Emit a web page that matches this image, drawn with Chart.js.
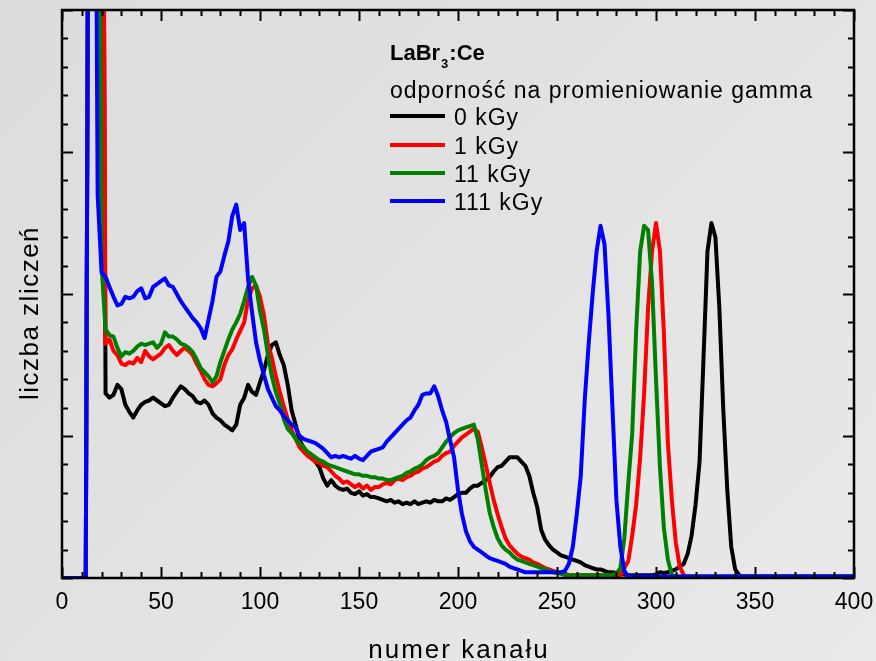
<!DOCTYPE html>
<html>
<head>
<meta charset="utf-8">
<title>LaBr3:Ce</title>
<script src="https://cdn.jsdelivr.net/npm/chart.js@4.4.1/dist/chart.umd.min.js"></script>
<style>
    html, body {
        margin: 0;
        padding: 0;
        overflow: hidden;
        background: linear-gradient(135deg, #dcdcdc, #e9e9e9);
    }
    #wrap {
        position: relative;
        width: 876px;
        height: 661px;
    }
</style>
</head>
<body>
<div id="wrap"><canvas id="spectrum" width="876" height="661"></canvas></div>
<script>
// channel numbers (x), every 2nd channel
const channels = [
    0, 2, 4, 6, 8, 10, 12, 14, 16, 18,
    20, 22, 24, 26, 28, 30, 32, 34, 36, 38,
    40, 42, 44, 46, 48, 50, 52, 54, 56, 58,
    60, 62, 64, 66, 68, 70, 72, 74, 76, 78,
    80, 82, 84, 86, 88, 90, 92, 94, 96, 98,
    100, 102, 104, 106, 108, 110, 112, 114, 116, 118,
    120, 122, 124, 126, 128, 130, 132, 134, 136, 138,
    140, 142, 144, 146, 148, 150, 152, 154, 156, 158,
    160, 162, 164, 166, 168, 170, 172, 174, 176, 178,
    180, 182, 184, 186, 188, 190, 192, 194, 196, 198,
    200, 202, 204, 206, 208, 210, 212, 214, 216, 218,
    220, 222, 224, 226, 228, 230, 232, 234, 236, 238,
    240, 242, 244, 246, 248, 250, 252, 254, 256, 258,
    260, 262, 264, 266, 268, 270, 272, 274, 276, 278,
    280, 282, 284, 286, 288, 290, 292, 294, 296, 298,
    300, 302, 304, 306, 308, 310, 312, 314, 316, 318,
    320, 322, 324, 326, 328, 330, 332, 334, 336, 338,
    340, 342, 344, 346, 348, 350, 352, 354, 356, 358,
    360, 362, 364, 366, 368, 370, 372, 374, 376, 378,
    380, 382, 384, 386, 388, 390, 392, 394, 396, 398,
    400
];

// counts (arbitrary units, 1 = one major division)
const dose0 = [
    0, 0, 0, 0, 0, 0, 0, 8, 8, 8,
    8, 1.30, 1.27, 1.29, 1.36, 1.33, 1.22, 1.17, 1.13, 1.18,
    1.22, 1.24, 1.25, 1.27, 1.25, 1.23, 1.21, 1.22, 1.27, 1.31,
    1.35, 1.33, 1.30, 1.28, 1.24, 1.23, 1.25, 1.22, 1.16, 1.13,
    1.11, 1.08, 1.06, 1.04, 1.08, 1.22, 1.27, 1.36, 1.31, 1.29,
    1.38, 1.46, 1.57, 1.64, 1.66, 1.57, 1.50, 1.36, 1.18, 1.08,
    0.97, 0.92, 0.88, 0.85, 0.82, 0.78, 0.70, 0.65, 0.69, 0.65,
    0.63, 0.62, 0.63, 0.60, 0.59, 0.61, 0.58, 0.59, 0.57, 0.57,
    0.56, 0.55, 0.54, 0.55, 0.53, 0.54, 0.52, 0.53, 0.52, 0.54,
    0.52, 0.53, 0.54, 0.53, 0.55, 0.54, 0.54, 0.56, 0.55, 0.57,
    0.59, 0.60, 0.60, 0.63, 0.65, 0.65, 0.67, 0.69, 0.71, 0.75,
    0.78, 0.79, 0.82, 0.85, 0.85, 0.85, 0.82, 0.79, 0.72, 0.60,
    0.50, 0.34, 0.27, 0.23, 0.20, 0.18, 0.16, 0.15, 0.14, 0.13,
    0.12, 0.11, 0.09, 0.08, 0.07, 0.06, 0.06, 0.05, 0.04, 0.04,
    0.035, 0.03, 0.025, 0.02, 0.02, 0.02, 0.02, 0.02, 0.02, 0.02,
    0.025, 0.04, 0.035, 0.04, 0.05, 0.06, 0.08, 0.10, 0.17, 0.30,
    0.52, 0.82, 1.55, 2.30, 2.50, 2.40, 1.90, 1.18, 0.62, 0.22,
    0.06, 0.02, 0.01, 0.01, 0.01, 0.01, 0.01, 0.01, 0.01, 0.01,
    0.01, 0.01, 0.01, 0.01, 0.01, 0.01, 0.01, 0.01, 0.01, 0.01,
    0.01, 0.01, 0.01, 0.01, 0.01, 0.01, 0.01, 0.01, 0.01, 0.01,
    0.01
];
const dose1 = [
    0, 0, 0, 0, 0, 0, 0, 8, 8, 8,
    8, 1.65, 1.68, 1.60, 1.57, 1.51, 1.50, 1.52, 1.51, 1.55,
    1.52, 1.60, 1.56, 1.54, 1.56, 1.58, 1.62, 1.64, 1.60, 1.57,
    1.60, 1.62, 1.60, 1.57, 1.51, 1.46, 1.40, 1.36, 1.35, 1.37,
    1.40, 1.50, 1.57, 1.61, 1.68, 1.74, 1.80, 1.96, 2.04, 2.06,
    1.98, 1.85, 1.65, 1.55, 1.42, 1.31, 1.21, 1.12, 1.04, 0.98,
    0.92, 0.89, 0.86, 0.84, 0.82, 0.81, 0.79, 0.78, 0.75, 0.72,
    0.70, 0.67, 0.68, 0.66, 0.64, 0.66, 0.63, 0.65, 0.62, 0.64,
    0.64, 0.66, 0.67, 0.66, 0.69, 0.70, 0.69, 0.71, 0.72, 0.74,
    0.75, 0.77, 0.78, 0.80, 0.82, 0.83, 0.86, 0.88, 0.89, 0.93,
    0.96, 0.99, 1.01, 1.03, 1.05, 1.03, 0.92, 0.80, 0.67, 0.55,
    0.45, 0.36, 0.28, 0.23, 0.20, 0.17, 0.15, 0.14, 0.13, 0.11,
    0.10, 0.085, 0.07, 0.06, 0.05, 0.04, 0.035, 0.03, 0.02, 0.02,
    0.02, 0.02, 0.02, 0.02, 0.02, 0.02, 0.02, 0.02, 0.02, 0.02,
    0.02, 0.02, 0.07, 0.12, 0.30, 0.52, 0.85, 1.30, 1.90, 2.30,
    2.50, 2.30, 1.72, 0.95, 0.55, 0.25, 0.08, 0.02, 0.01, 0.01,
    0.01, 0.01, 0.01, 0.01, 0.01, 0.01, 0.01, 0.01, 0.01, 0.01,
    0.01, 0.01, 0.01, 0.01, 0.01, 0.01, 0.01, 0.01, 0.01, 0.01,
    0.01, 0.01, 0.01, 0.01, 0.01, 0.01, 0.01, 0.01, 0.01, 0.01,
    0.01, 0.01, 0.01, 0.01, 0.01, 0.01, 0.01, 0.01, 0.01, 0.01,
    0.01
];
const dose11 = [
    0, 0, 0, 0, 0, 0, 0, 8, 8, 8,
    2.20, 1.75, 1.71, 1.70, 1.62, 1.56, 1.59, 1.58, 1.60, 1.63,
    1.65, 1.64, 1.65, 1.66, 1.62, 1.65, 1.73, 1.70, 1.70, 1.68,
    1.65, 1.64, 1.62, 1.59, 1.54, 1.48, 1.45, 1.42, 1.38, 1.42,
    1.52, 1.60, 1.68, 1.75, 1.80, 1.86, 1.95, 2.05, 2.12, 2.06,
    1.88, 1.75, 1.57, 1.42, 1.31, 1.23, 1.12, 1.05, 1.02, 0.98,
    0.95, 0.92, 0.89, 0.87, 0.85, 0.83, 0.82, 0.80, 0.79, 0.78,
    0.77, 0.76, 0.75, 0.74, 0.73, 0.73, 0.72, 0.72, 0.71, 0.71,
    0.70, 0.70, 0.69, 0.69, 0.70, 0.71, 0.72, 0.74, 0.75, 0.77,
    0.78, 0.80, 0.83, 0.85, 0.86, 0.88, 0.92, 0.96, 0.99, 1.02,
    1.04, 1.05, 1.06, 1.07, 1.08, 0.98, 0.80, 0.62, 0.46, 0.36,
    0.28, 0.23, 0.20, 0.18, 0.15, 0.13, 0.12, 0.11, 0.10, 0.09,
    0.08, 0.07, 0.06, 0.05, 0.04, 0.035, 0.03, 0.02, 0.02, 0.02,
    0.02, 0.02, 0.02, 0.02, 0.02, 0.02, 0.02, 0.02, 0.02, 0.02,
    0.03, 0.07, 0.28, 0.67, 1.02, 1.75, 2.30, 2.48, 2.45, 2.08,
    1.40, 0.78, 0.35, 0.13, 0.02, 0.01, 0.01, 0.01, 0.01, 0.01,
    0.01, 0.01, 0.01, 0.01, 0.01, 0.01, 0.01, 0.01, 0.01, 0.01,
    0.01, 0.01, 0.01, 0.01, 0.01, 0.01, 0.01, 0.01, 0.01, 0.01,
    0.01, 0.01, 0.01, 0.01, 0.01, 0.01, 0.01, 0.01, 0.01, 0.01,
    0.01, 0.01, 0.01, 0.01, 0.01, 0.01, 0.01, 0.01, 0.01, 0.01,
    0.01
];
const dose111 = [
    0, 0, 0, 0, 0, 0, 0, 8, 8, 2.70,
    2.15, 2.12, 2.05, 1.98, 1.92, 1.93, 1.98, 1.97, 1.98, 2.02,
    2.04, 1.97, 1.98, 2.05, 2.07, 2.09, 2.11, 2.06, 2.05, 2.00,
    1.95, 1.91, 1.87, 1.83, 1.80, 1.76, 1.69, 1.82, 1.95, 2.12,
    2.16, 2.27, 2.37, 2.55, 2.63, 2.45, 2.50, 2.10, 1.87, 1.66,
    1.53, 1.43, 1.33, 1.27, 1.21, 1.18, 1.14, 1.11, 1.08, 1.06,
    1.00, 0.98, 0.97, 0.96, 0.95, 0.93, 0.91, 0.88, 0.85, 0.86,
    0.85, 0.86, 0.85, 0.84, 0.86, 0.84, 0.83, 0.86, 0.89, 0.90,
    0.91, 0.92, 0.96, 0.99, 1.02, 1.05, 1.08, 1.11, 1.13, 1.18,
    1.22, 1.29, 1.30, 1.30, 1.35, 1.28, 1.18, 1.10, 0.97, 0.85,
    0.62, 0.45, 0.33, 0.26, 0.22, 0.20, 0.18, 0.16, 0.14, 0.13,
    0.12, 0.11, 0.10, 0.08, 0.07, 0.06, 0.05, 0.04, 0.04, 0.04,
    0.04, 0.04, 0.04, 0.04, 0.04, 0.04, 0.04, 0.05, 0.10, 0.22,
    0.45, 0.72, 1.25, 1.65, 2.00, 2.30, 2.48, 2.35, 1.85, 1.20,
    0.55, 0.22, 0.05, 0.01, 0.01, 0.01, 0.01, 0.01, 0.01, 0.01,
    0.01, 0.01, 0.01, 0.01, 0.01, 0.01, 0.01, 0.01, 0.01, 0.01,
    0.01, 0.01, 0.01, 0.01, 0.01, 0.01, 0.01, 0.01, 0.01, 0.01,
    0.01, 0.01, 0.01, 0.01, 0.01, 0.01, 0.01, 0.01, 0.01, 0.01,
    0.01, 0.01, 0.01, 0.01, 0.01, 0.01, 0.01, 0.01, 0.01, 0.01,
    0.01, 0.01, 0.01, 0.01, 0.01, 0.01, 0.01, 0.01, 0.01, 0.01,
    0.01
];

const seriesLabels = ["0 kGy", "1 kGy", "11 kGy", "111 kGy"];
const seriesColors = ["#000000", "#ff0000", "#008000", "#0000ff"];
const xTickLabels = [0, 50, 100, 150, 200, 250, 300, 350, 400];
const xMinorStep = 10;
const yMajorTicks = [0, 1, 2, 3, 4];
const yMinorStep = 0.2;

const FONT = "'Liberation Sans', Arial, sans-serif";

function toPoints(values) {
    return values.map((v, i) => ({ x: channels[i], y: v }));
}

// frame, inward ticks, labels and the legend box
const decorations = {
    id: "decorations",
    afterDatasetsDraw(chart) {
        const ctx = chart.ctx;
        const area = chart.chartArea;
        const xs = chart.scales.x;
        const ys = chart.scales.y;

        ctx.save();
        ctx.strokeStyle = "#000";
        ctx.lineWidth = 2;
        ctx.lineCap = "butt";

        // x ticks (bottom and top)
        for (let v = xs.min; v <= xs.max + 0.001; v += xMinorStep) {
            const px = Math.round(xs.getPixelForValue(v)) + 0.5;
            const len = xTickLabels.includes(Math.round(v)) ? 11 : 6;
            ctx.beginPath();
            ctx.moveTo(px, area.bottom);
            ctx.lineTo(px, area.bottom - len);
            ctx.moveTo(px, area.top);
            ctx.lineTo(px, area.top + len);
            ctx.stroke();
        }
        // y ticks (left and right)
        for (let v = ys.min; v <= ys.max + 0.001; v += yMinorStep) {
            const py = Math.round(ys.getPixelForValue(v)) + 0.5;
            const major = yMajorTicks.some(t => Math.abs(t - v) < 0.001);
            const len = major ? 11 : 6;
            ctx.beginPath();
            ctx.moveTo(area.left, py);
            ctx.lineTo(area.left + len, py);
            ctx.moveTo(area.right, py);
            ctx.lineTo(area.right - len, py);
            ctx.stroke();
        }

        // frame
        ctx.lineWidth = 2.5;
        ctx.strokeRect(area.left, area.top, area.right - area.left, area.bottom - area.top);

        // x tick labels
        ctx.fillStyle = "#000";
        ctx.font = "23px " + FONT;
        ctx.textAlign = "center";
        ctx.textBaseline = "middle";
        xTickLabels.forEach(t => {
            ctx.fillText(String(t), xs.getPixelForValue(t), 603);
        });

        // axis titles
        ctx.font = "26px " + FONT;
        ctx.letterSpacing = "2px";
        ctx.textBaseline = "alphabetic";
        ctx.fillText("numer kanału", (area.left + area.right) / 2 + 1, 658);

        ctx.save();
        ctx.letterSpacing = "1.5px";
        ctx.translate(38, 313);
        ctx.rotate(-Math.PI / 2);
        ctx.fillText("liczba zliczeń", 0, 0);
        ctx.restore();

        // legend
        ctx.letterSpacing = "0px";
        ctx.textAlign = "left";
        let x = 390;
        ctx.font = "bold 22px " + FONT;
        ctx.fillText("LaBr", x, 60);
        x += ctx.measureText("LaBr").width + 1;
        ctx.font = "bold 13px " + FONT;
        ctx.fillText("3", x, 68);
        x += ctx.measureText("3").width + 1;
        ctx.font = "bold 22px " + FONT;
        ctx.fillText(":Ce", x, 60);

        ctx.font = "23px " + FONT;
        ctx.letterSpacing = "1px";
        ctx.fillText("odporność na promieniowanie gamma", 390, 98);

        const rowY = [116, 145, 173, 201];
        seriesLabels.forEach((label, i) => {
            ctx.strokeStyle = seriesColors[i];
            ctx.lineWidth = 4;
            ctx.beginPath();
            ctx.moveTo(390, rowY[i]);
            ctx.lineTo(445, rowY[i]);
            ctx.stroke();
            ctx.fillStyle = "#000";
            ctx.fillText(label, 454, rowY[i] + 9);
        });
        ctx.restore();
    }
};

const seriesData = [dose0, dose1, dose11, dose111];
const drawOrder = [4, 3, 2, 1]; // blue on top

const ctx = document.getElementById("spectrum").getContext("2d");
new Chart(ctx, {
    type: "line",
    data: {
        datasets: seriesData.map((values, i) => ({
            label: seriesLabels[i],
            data: toPoints(values),
            borderColor: seriesColors[i],
            borderWidth: 4,
            borderJoinStyle: "round",
            pointRadius: 0,
            tension: 0,
            fill: false,
            order: drawOrder[i]
        }))
    },
    options: {
        responsive: false,
        animation: false,
        devicePixelRatio: 1,
        layout: {
            padding: { left: 62, right: 22, top: 10, bottom: 83 }
        },
        scales: {
            x: { type: "linear", min: 0, max: 400, display: false },
            y: { type: "linear", min: 0, max: 4, display: false }
        },
        plugins: {
            legend: { display: false },
            tooltip: { enabled: false }
        }
    },
    plugins: [decorations]
});
</script>
</body>
</html>
